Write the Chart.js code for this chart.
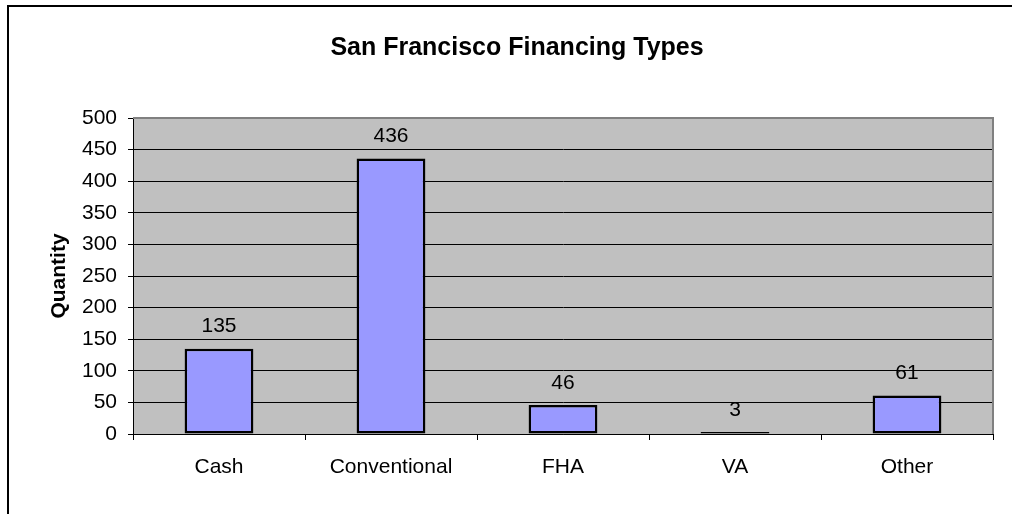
<!DOCTYPE html>
<html>
<head>
<meta charset="utf-8">
<script src="https://cdn.jsdelivr.net/npm/chart.js@4/dist/chart.umd.min.js"></script>
<style>
html,body{margin:0;padding:0;background:#fff;}
#wrap{width:1012px;height:514px;position:relative;}
</style>
</head>
<body>
<div id="wrap"><canvas id="c" width="1012" height="514"></canvas></div>
<script>
const chartTitle = "San Francisco Financing Types";
const yAxisTitle = "Quantity";
const categories = ["Cash", "Conventional", "FHA", "VA", "Other"];
const quantities = [135, 436, 46, 3, 61];
const yMin = 0, yMax = 500, yStep = 50;

const FONT = "'Liberation Sans', Arial, sans-serif";

const decor = {
  id: 'decor',
  beforeDraw(chart) {
    const ctx = chart.ctx, a = chart.chartArea;
    ctx.save();
    ctx.fillStyle = '#ffffff';
    ctx.fillRect(0, 0, chart.width, chart.height);
    ctx.strokeStyle = '#000';
    ctx.lineWidth = 2;
    ctx.beginPath();
    ctx.moveTo(8, chart.height);
    ctx.lineTo(8, 6);
    ctx.lineTo(chart.width, 6);
    ctx.stroke();
    ctx.fillStyle = '#C0C0C0';
    ctx.fillRect(a.left, a.top, a.right - a.left, a.bottom - a.top);
    ctx.restore();
  },
  afterDatasetsDraw(chart) {
    const ctx = chart.ctx, a = chart.chartArea;
    ctx.save();
    ctx.strokeStyle = '#808080';
    ctx.lineWidth = 2;
    ctx.beginPath();
    ctx.moveTo(a.left, a.top);
    ctx.lineTo(a.right, a.top);
    ctx.lineTo(a.right, a.bottom);
    ctx.stroke();
    const meta = chart.getDatasetMeta(0);
    ctx.fillStyle = '#000';
    ctx.font = '21px ' + FONT;
    ctx.textAlign = 'center';
    ctx.textBaseline = 'middle';
    meta.data.forEach((bar, i) => {
      ctx.fillText(String(quantities[i]), bar.x, bar.y - 22);
    });
    ctx.font = 'bold 25px ' + FONT;
    ctx.fillText(chartTitle, 517, 48);
    ctx.translate(59, (a.top + a.bottom) / 2);
    ctx.rotate(-Math.PI / 2);
    ctx.font = 'bold 21px ' + FONT;
    ctx.fillText(yAxisTitle, 0, 0);
    ctx.restore();
  }
};

new Chart(document.getElementById('c'), {
  type: 'bar',
  data: {
    labels: categories,
    datasets: [{
      data: quantities,
      backgroundColor: '#9999FF',
      borderColor: '#000000',
      borderWidth: 2.5,
      borderSkipped: false,
      categoryPercentage: 1.0,
      barPercentage: 0.4
    }]
  },
  options: {
    responsive: false,
    animation: false,
    devicePixelRatio: 1,
    layout: { padding: { left: 0, top: 118, right: 19, bottom: 0 } },
    plugins: { legend: { display: false }, title: { display: false }, tooltip: { enabled: false } },
    scales: {
      x: {
        afterFit(s) { s.height = 80; },
        grid: { display: true, offset: true, drawOnChartArea: false, drawTicks: true, tickLength: 6, color: '#000' },
        border: { display: true, color: '#000', width: 1 },
        ticks: { color: '#000', font: { family: FONT, size: 21 }, padding: 15, maxRotation: 0 }
      },
      y: {
        min: yMin, max: yMax,
        afterFit(s) { s.width = 133; },
        grid: { color: '#000', lineWidth: 1, drawTicks: true, tickLength: 5 },
        border: { display: true, color: '#000', width: 1 },
        ticks: { stepSize: yStep, color: '#000', font: { family: FONT, size: 21 }, padding: 11 }
      }
    }
  },
  plugins: [decor]
});
</script>
</body>
</html>
